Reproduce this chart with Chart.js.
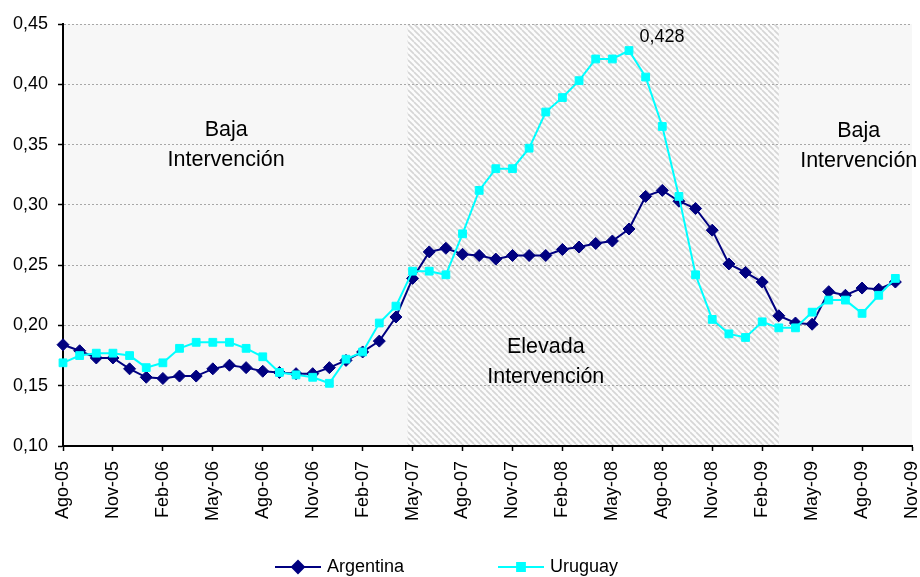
<!DOCTYPE html>
<html><head><meta charset="utf-8">
<script src="https://cdn.jsdelivr.net/npm/chart.js@4.4.1/dist/chart.umd.min.js"></script>
<style>html,body{margin:0;padding:0;background:#fff}#wrap{width:920px;height:577px;position:relative}</style>
</head><body><div id="wrap"><canvas id="c" width="920" height="577"></canvas></div>
<script>
const months = ['Ago-05','Sep-05','Oct-05','Nov-05','Dic-05','Ene-06','Feb-06','Mar-06','Abr-06','May-06','Jun-06','Jul-06',
'Ago-06','Sep-06','Oct-06','Nov-06','Dic-06','Ene-07','Feb-07','Mar-07','Abr-07','May-07','Jun-07','Jul-07',
'Ago-07','Sep-07','Oct-07','Nov-07','Dic-07','Ene-08','Feb-08','Mar-08','Abr-08','May-08','Jun-08','Jul-08',
'Ago-08','Sep-08','Oct-08','Nov-08','Dic-08','Ene-09','Feb-09','Mar-09','Abr-09','May-09','Jun-09','Jul-09',
'Ago-09','Sep-09','Oct-09','Nov-09'];
const argentina = [0.184,0.179,0.173,0.173,0.164,0.157,0.156,0.158,0.158,0.164,0.167,0.165,
0.162,0.161,0.160,0.160,0.165,0.171,0.178,0.187,0.207,0.239,0.261,0.264,
0.259,0.258,0.255,0.258,0.258,0.258,0.263,0.265,0.268,0.270,0.280,0.307,
0.312,0.303,0.297,0.279,0.251,0.244,0.236,0.208,0.202,0.201,0.228,0.225,
0.231,0.230,0.236];
const uruguay = [0.169,0.175,0.177,0.177,0.175,0.165,0.169,0.181,0.186,0.186,0.186,0.181,
0.174,0.161,0.159,0.157,0.152,0.172,0.178,0.202,0.216,0.245,0.245,0.242,
0.276,0.312,0.330,0.330,0.347,0.377,0.389,0.403,0.421,0.421,0.428,0.406,
0.365,0.307,0.242,0.205,0.193,0.190,0.203,0.198,0.198,0.211,0.221,0.221,
0.210,0.225,0.239];
const yMin = 0.10, yMax = 0.45, yStep = 0.05;
const labelEvery = 3;
// high-intervention period (in month index units)
const elevadaFrom = 20.7, elevadaTo = 43.0;
const annotations = [
  {lines:['Baja','Intervención'], x:9.8, y:0.357},
  {lines:['Elevada','Intervención'], x:29.0, y:0.177},
  {lines:['Baja','Intervención'], x:47.8, y:0.356}
];

const FONT = "'Liberation Sans', Arial, sans-serif";
Chart.defaults.font.family = FONT;
Chart.defaults.color = '#000';

function makeHatch(){
  const p = document.createElement('canvas');
  p.width = 6; p.height = 6;
  const g = p.getContext('2d');
  g.fillStyle = '#fcfcfc'; g.fillRect(0,0,6,6);
  g.strokeStyle = '#d6d6d6'; g.lineWidth = 1.7;
  for (const o of [-6,0,6]) { g.beginPath(); g.moveTo(o,0); g.lineTo(o+6,6); g.stroke(); }
  return p;
}

const bgPlugin = {
  id:'bg',
  beforeDraw(chart){
    const {ctx, chartArea:a, scales:{x}} = chart;
    ctx.save();
    ctx.fillStyle = '#f7f7f7';
    ctx.fillRect(a.left, a.top, a.right-a.left, a.bottom-a.top);
    const x0 = x.getPixelForValue(elevadaFrom), x1 = x.getPixelForValue(elevadaTo);
    ctx.fillStyle = ctx.createPattern(makeHatch(), 'repeat');
    ctx.fillRect(x0, a.top, x1-x0, a.bottom-a.top);
    ctx.restore();
  }
};

const textPlugin = {
  id:'txt',
  beforeDatasetsDraw(chart){
    const {ctx, scales:{x,y}} = chart;
    ctx.save();
    ctx.fillStyle = '#000';
    ctx.textAlign = 'center'; ctx.textBaseline = 'alphabetic';
    ctx.font = '21.5px ' + FONT;
    for (const an of annotations){
      const px = x.getPixelForValue(an.x), py = y.getPixelForValue(an.y);
      an.lines.forEach((l,i)=> ctx.fillText(l, px, py + i*29.5));
    }
    ctx.restore();
  },
  afterDatasetsDraw(chart){
    const {ctx, scales:{x,y}} = chart;
    let mi = 0; uruguay.forEach((v,i)=>{ if (v > uruguay[mi]) mi = i; });
    const px = x.getPixelForValue(mi), py = y.getPixelForValue(uruguay[mi]);
    ctx.save();
    ctx.fillStyle = '#000';
    ctx.font = '18px ' + FONT;
    ctx.textAlign = 'center'; ctx.textBaseline = 'alphabetic';
    ctx.fillText(uruguay[mi].toFixed(3).replace('.',','), px + 33, py - 8.5);
    ctx.restore();
  }
};

const legendPlugin = {
  id:'lg',
  afterDraw(chart){
    const {ctx} = chart;
    const starts = [275, 498];
    const ly = 567;
    ctx.save();
    chart.data.datasets.forEach((ds, i) => {
      const sx = starts[i];
      ctx.strokeStyle = ds.borderColor; ctx.lineWidth = 2;
      ctx.beginPath(); ctx.moveTo(sx, ly); ctx.lineTo(sx+46, ly); ctx.stroke();
      Chart.helpers.drawPoint(ctx, {pointStyle: ds.pointStyle, radius: ds.pointRadius, borderWidth: 1, rotation:0}, sx+23, ly);
      ctx.fillStyle = ds.borderColor;
      ctx.fill();
      ctx.fillStyle = '#000';
      ctx.font = '18px ' + FONT;
      ctx.textAlign = 'left'; ctx.textBaseline = 'middle';
      ctx.fillText(ds.label, sx + 52, ly);
    });
    ctx.restore();
  }
};

new Chart(document.getElementById('c'), {
  type:'line',
  data:{
    labels: months,
    datasets:[
      {label:'Argentina', data: argentina, borderColor:'#000080', backgroundColor:'#000080',
       pointStyle:'rectRot', pointRadius:6, pointBorderWidth:1, borderWidth:2, tension:0, order:1},
      {label:'Uruguay', data: uruguay, borderColor:'#00FFFF', backgroundColor:'#00FFFF',
       pointStyle:'rect', pointRadius:5.5, pointBorderWidth:1, borderWidth:2, tension:0, order:0}
    ]
  },
  options:{
    responsive:false, animation:false, devicePixelRatio:1,
    layout:{padding:{top:24, right:8, left:0, bottom:0}},
    plugins:{legend:{display:false}, tooltip:{enabled:false}},
    scales:{
      x:{
        type:'category', offset:false,
        grid:{drawOnChartArea:false, drawTicks:true, tickLength:5, tickWidth:1.5,
              tickColor: c => (c.index % labelEvery === 0 ? '#000' : 'rgba(0,0,0,0)')},
        border:{display:true, color:'#000', width:2},
        ticks:{autoSkip:false, maxRotation:90, minRotation:90, padding:10, font:{size:18}, color:'#000',
               callback:(v,i) => (i % labelEvery === 0 ? months[i] : '')},
        afterFit: s => { s.height = 131; s.paddingRight = 0; s.paddingLeft = 0; }
      },
      y:{
        min:yMin, max:yMax,
        ticks:{stepSize:yStep, font:{size:18}, padding:10, color:'#000',
               callback: v => Number(v).toFixed(2).replace('.',',')},
        grid:{color:'#a8a8a8', lineWidth:1, tickLength:5, tickColor:'#000', tickWidth:1.5},
        border:{display:true, color:'#000', width:2, dash:[2,2]},
        afterFit: s => { s.width = 63; }
      }
    }
  },
  plugins:[bgPlugin, textPlugin, legendPlugin]
});
</script>
</body></html>
